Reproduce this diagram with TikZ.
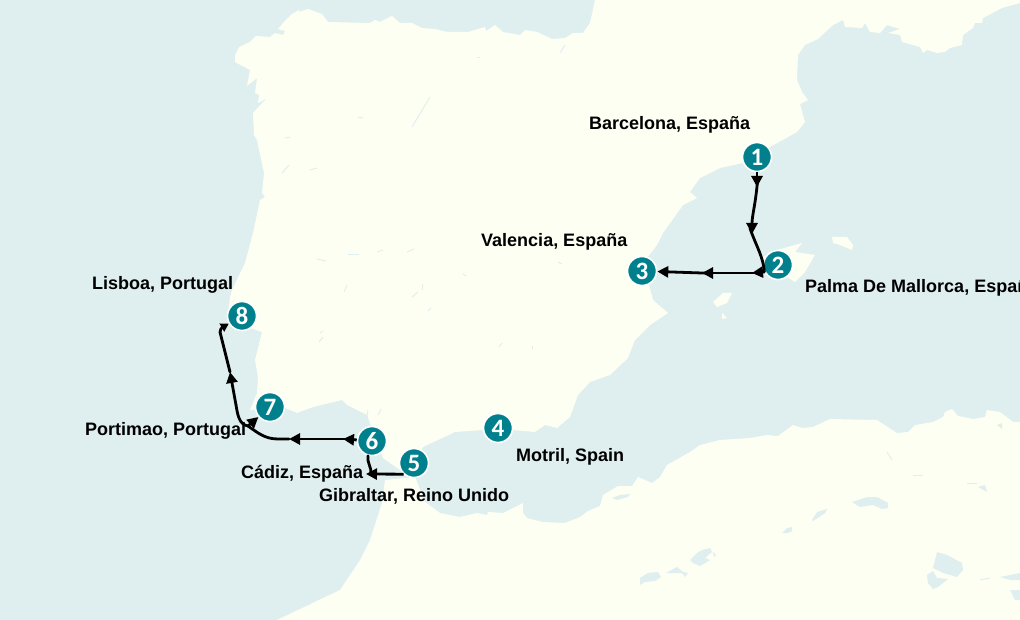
\documentclass[tikz,border=0pt]{standalone}
\usepackage{fontspec}
\setmainfont{Liberation Sans}
\newfontfamily\numfont{Carlito}
\usetikzlibrary{arrows.meta}
\definecolor{seablue}{HTML}{DFEEEE}
\definecolor{landcream}{HTML}{FEFFF3}
\definecolor{stopteal}{HTML}{00808C}
\tikzset{
  stopnode/.style={circle,fill=stopteal,draw=white,line width=1.6pt,minimum size=29pt,inner sep=0pt,text=white,font=\numfont\bfseries\fontsize{25}{25}\selectfont},
  cityname/.style={anchor=base west,inner sep=0pt,font=\bfseries\fontsize{18}{18}\selectfont},
  land/.style={fill=landcream},
  lake/.style={fill=seablue},
  crack/.style={draw=seablue,line width=.9pt},
  leg/.style={draw=black,line width=2.8pt,-{Triangle[length=11pt,width=11pt]}},
  midleg/.style={leg,shorten <=-6pt},
  shortleg/.style={draw=black,line width=2.8pt,-{Triangle[length=8pt,width=9pt]}},
  legplain/.style={draw=black,line width=2.8pt,line cap=round},
}
\begin{document}
\begin{tikzpicture}[x=1pt,y=-1pt]
\useasboundingbox (0,0) rectangle (1020,620);
\clip (0,0) rectangle (1020,620);
\fill[seablue] (0,0) rectangle (1020,620);
% Iberia and France
\fill[land] (595,0) -- (590,23) -- (583,33) -- (573,33) -- (565,38) -- (552,39) -- (537,32) -- (525,30) -- (520,35) -- (503,32) -- (495,25) -- (486,31)
  -- (485,27) -- (468,32) -- (447,32) -- (435,29) -- (422,28) -- (412,23) -- (400,23) -- (392,16) -- (380,22) -- (375,20) -- (370,23) -- (328,22)
  -- (322,14) -- (308,9) -- (299,12) -- (299,10) -- (292,14) -- (283,23) -- (278,29) -- (285,31) -- (283,35) -- (275,33) -- (270,37) -- (256,36)
  -- (250,42) -- (239,47) -- (235,55) -- (235,62) -- (250,70) -- (247,86) -- (257,78) -- (255,93) -- (259,95) -- (258,103) -- (265,100) -- (253,113)
  -- (254,135) -- (257,140) -- (264,173) -- (262,193) -- (265,197) -- (260,200) -- (253,233) -- (245,263) -- (232,290) -- (230,297) -- (228,316)
  -- (250,328) -- (262,332) -- (255,360) -- (258,377) -- (257,393) -- (250,410) -- (283,407) -- (297,413) -- (313,407) -- (342,400) -- (347,405)
  -- (367,415) -- (375,437) -- (383,458) -- (400,470) -- (410,472) -- (423,447) -- (455,432) -- (483,430) -- (513,430) -- (535,432) -- (545,425)
  -- (557,428) -- (570,417) -- (578,395) -- (590,382) -- (610,375) -- (628,358) -- (635,340) -- (650,325) -- (668,313) -- (653,300) -- (647,277)
  -- (642,270) -- (647,258) -- (657,245) -- (663,233) -- (683,205) -- (697,198) -- (690,192) -- (700,178) -- (720,168) -- (743,163) -- (770,147)
  -- (797,132) -- (805,122) -- (800,104) -- (808,100) -- (802,92) -- (797,80) -- (798,55) -- (805,45) -- (818,39) -- (833,25) -- (843,20) -- (845,27)
  -- (862,28) -- (865,23) -- (870,32) -- (880,33) -- (887,25) -- (900,29) -- (888,33) -- (900,35) -- (902,42) -- (920,47) -- (923,53) -- (927,50)
  -- (937,53) -- (945,52) -- (950,48) -- (962,45) -- (963,35) -- (973,28) -- (975,23) -- (982,23) -- (983,18) -- (1002,8) -- (1020,3) -- (1020,0) -- cycle;
% Africa
\fill[land] (277,620) -- (340,590) -- (360,560) -- (370,540) -- (382,503) -- (385,480) -- (415,477) -- (425,502) -- (440,513) -- (460,517) -- (477,513)
  -- (487,515) -- (488,512) -- (503,513) -- (523,503) -- (523,513) -- (527,518) -- (543,522) -- (565,523) -- (580,517) -- (588,511) -- (600,506)
  -- (603,495) -- (618,486) -- (632,486) -- (638,477) -- (652,483) -- (660,477) -- (667,465) -- (690,452) -- (700,445) -- (720,440) -- (750,438)
  -- (767,435) -- (778,436) -- (793,425) -- (802,428) -- (813,427) -- (830,419) -- (877,420) -- (897,433) -- (908,432) -- (915,425) -- (933,422)
  -- (943,417) -- (945,412) -- (952,409) -- (958,416) -- (973,419) -- (985,417) -- (987,410) -- (1000,412) -- (1013,422) -- (1020,422) -- (1020,620) -- cycle;
% Balearics
\fill[land] (763,257) -- (777,250) -- (802,243) -- (795,252) -- (815,255) -- (805,272) -- (795,282) -- (787,277) -- (770,275) -- cycle;
\fill[land] (832,237) -- (847,237) -- (853,245) -- (852,250) -- (840,245) -- (833,243) -- cycle;
\fill[land] (713,302) -- (723,293) -- (732,293) -- (727,303) -- (717,307) -- cycle;
\fill[land] (722,313) -- (727,318) -- (722,319) -- cycle;
% lakes in Africa
\fill[lake] (612,498) -- (620,495) -- (630,494) -- (628,497) -- (617,500) -- cycle;
\fill[lake] (852,502) -- (867,497) -- (877,497) -- (888,503) -- (888,508) -- (882,509) -- (873,505) -- (860,507) -- cycle;
\fill[lake] (812,520) -- (817,512) -- (827,509) -- (825,513) -- (813,521) -- cycle;
\fill[lake] (782,533) -- (787,528) -- (792,527) -- (792,531) -- (788,533) -- cycle;
\fill[lake] (690,560) -- (697,553) -- (702,550) -- (710,548) -- (712,552) -- (705,558) -- (710,560) -- (700,566) -- (693,563) -- cycle;
\fill[lake] (713,552) -- (716,555) -- (714,557) -- cycle;
\fill[lake] (640,578) -- (648,573) -- (658,572) -- (661,577) -- (655,581) -- (645,582) -- (640,585) -- cycle;
\fill[lake] (666,573) -- (677,567) -- (683,572) -- (688,573) -- (685,577) -- (682,573) -- (670,573) -- cycle;
\fill[lake] (937,552) -- (947,555) -- (962,563) -- (963,570) -- (957,577) -- (943,573) -- (933,568) -- cycle;
\fill[lake] (927,575) -- (933,571) -- (937,578) -- (948,579) -- (938,587) -- (933,589) -- (928,583) -- cycle;
\fill[lake] (1000,577) -- (1020,573) -- (1020,580) -- (1010,580) -- cycle;
\fill[lake] (1010,590) -- (1020,590) -- (1020,600) -- (1015,600) -- cycle;
\fill[lake] (978,487) -- (985,485) -- (987,492) -- cycle;
\fill[lake] (997,425) -- (1002,423) -- (1002,429) -- cycle;
% river marks
\foreach \xa/\ya/\xb/\yb in {285/138/290/137,282/173/289/165,310/170/317/168,317/259/326/261,348/254/359/254,377/252/383/250,407/252/414/249,344/292/347/285,
  412/297/418/292,422/290/423/284,428/311/431/308,463/274/466/276,558/262/562/264,319/342/323/337,320/333/323/331,499/347/502/343,532/349/532/346,
  477/57/480/57,560/53/565/45,412/127/430/97,358/117/363/118,260/103/265/100,367/417/368/410,378/415/381/409,887/452/892/460,913/475/923/475,967/483/977/483,980/580/990/578}{
  \draw[crack] (\xa,\ya) -- (\xb,\yb);
}
% stops
\foreach \i/\x/\y in {1/757/157,2/778/265,3/642/271,4/498/428,5/414/463,6/372/441,7/270/407,8/242/316}{
  \node[stopnode] (n\i) at (\x,\y) {\i};
}
% names
\node[cityname] (lb1) at (589,130) {Barcelona, España};
\node[cityname] (lb2) at (805,293) {Palma De Mallorca, España};
\node[cityname] (lb3) at (481,247) {Valencia, España};
\node[cityname] (lb4) at (516,461) {Motril, Spain};
\node[cityname] (lb5) at (319,501) {Gibraltar, Reino Unido};
\node[cityname] (lb6) at (241,478) {Cádiz, España};
\node[cityname] (lb7) at (85,435) {Portimao, Portugal};
\node[cityname] (lb8) at (92,290) {Lisboa, Portugal};
% route
\coordinate (a1) at (757,187);
\coordinate (a2) at (752,234);
\coordinate (a3) at (752,273);
\coordinate (a4) at (702,273);
\coordinate (a5) at (366,474);
\coordinate (a6) at (343,439);
\coordinate (a7) at (289,439);
\coordinate (a8) at (230,372);
\coordinate (a9) at (248,426);
\coordinate (a10) at (220,332);
\coordinate (a11) at (236,405);
\coordinate (a12) at (371,474);
\draw[leg] (n1) -- (a1);
\draw[midleg] (a1) to[out=-95,in=90] (a2);
\draw[legplain,shorten <=-6pt] (a2) to[out=-70,in=95] (n2.207);
\draw[leg] (n2.207) -- (a3);
\draw[midleg] (a3) -- (a4);
\draw[midleg] (a4) -- (n3);
\draw[leg] (n5.227) -- (a5);
\draw[legplain] (a12) to[out=85,in=-100] (n6.255);
\draw[leg] (n6) -- (a6);
\draw[midleg] (a6) -- (a7);
\draw[legplain] (a7) -- (278,439) to[out=180,in=-35] (a9);
\draw[leg] (a9) -- (n7);
\draw[legplain] (a9) to[out=170,in=-80] (a11);
\draw[leg] (a11) -- (a8);
\draw[legplain] (a8) -- (a10);
\draw[shortleg] (a10) to[out=85,in=-150] (n8);
\end{tikzpicture}
\end{document}
